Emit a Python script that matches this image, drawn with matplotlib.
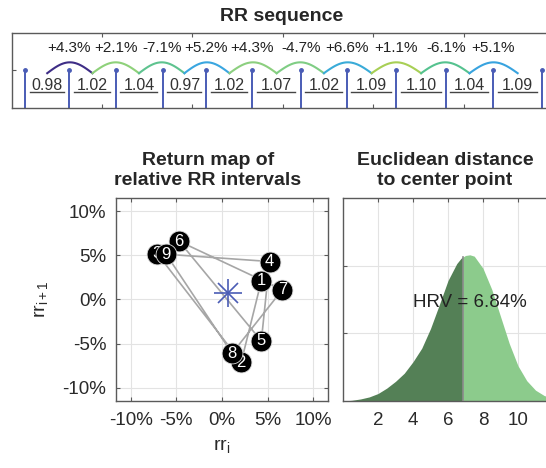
import numpy as np
import matplotlib
matplotlib.use("Agg")
import matplotlib.pyplot as plt

plt.rcParams['font.family'] = ['Liberation Sans', 'DejaVu Sans']
plt.rcParams['mathtext.fontset'] = 'custom'
plt.rcParams['mathtext.rm'] = 'Liberation Sans'
plt.rcParams['mathtext.it'] = 'Liberation Sans'

# ----- Data -----
t_first = 0.3                     # time of first beat (s)
rr = [0.98, 1.02, 1.04, 0.97, 1.02, 1.07, 1.02, 1.09, 1.10, 1.04, 1.09]
rel = [4.3, 2.1, -7.1, 5.2, 4.3, -4.7, 6.6, 1.1, -6.1, 5.1]   # relative change (%)
rel_labels = ["+4.3%", "+2.1%", "-7.1%", "+5.2%", "+4.3%", "-4.7%",
              "+6.6%", "+1.1%", "-6.1%", "+5.1%"]
arc_colors = ["#3e2d86", "#8ed17a", "#5ec38f", "#3aa6e0", "#8ccf7f",
              "#7fcd84", "#3aabd8", "#a8cf55", "#55c28f", "#38a3df"]

# distance distribution
dist_x = [0, 0.5, 1.0, 1.5, 2.0, 2.5, 3.0, 3.5, 4.0, 4.5, 5.0, 5.5, 6.0, 6.5,
          6.75, 7.0, 7.25, 7.5, 8.0, 8.5, 9.0, 9.5, 10.0, 10.5, 11.0, 11.5, 12.0]
dist_y = [0.0, 0.01, 0.03, 0.06, 0.11, 0.19, 0.29, 0.41, 0.58, 0.78, 1.07, 1.42,
          1.78, 2.03, 2.11, 2.15, 2.16, 2.14, 1.96, 1.65, 1.25, 0.85, 0.52, 0.30,
          0.16, 0.08, 0.04]
hrv = 6.84

frame_col = "#5a5a5a"
blue = "#4a5cb5"

fig = plt.figure(figsize=(5.46, 4.68), dpi=100)

def style(ax):
    for s in ax.spines.values():
        s.set_color(frame_col)
        s.set_linewidth(1.0)
    ax.tick_params(direction='in', length=3, width=0.8, color=frame_col,
                   top=True, right=True, labelsize=13.5, labelcolor="#2a2a2a")
    ax.tick_params(axis='x', pad=8)
    ax.tick_params(axis='y', pad=7)

# ----- RR sequence -----
ax1 = fig.add_axes([0.0211, 0.7699, 0.9936, 0.1602])
style(ax1)
beats = t_first + np.concatenate([[0], np.cumsum(rr)])
ax1.vlines(beats, 0, 1, color=blue, lw=1.4)
ax1.plot(beats, np.ones_like(beats), 'o', color=blue, ms=2.5)
mids = (beats[:-1] + beats[1:]) / 2
for i in range(len(rr)):
    ax1.text(mids[i], 0.6, f"{rr[i]:.2f}", ha='center', va='center',
             fontsize=11.5, color="#333333")
    ax1.plot([beats[i] + 0.1, beats[i + 1] - 0.12], [0.43, 0.43],
             color="#444444", lw=1.0)
u = np.linspace(0, 1, 30)
for i in range(len(rel)):
    xs = mids[i] + (mids[i + 1] - mids[i]) * u
    ax1.plot(xs, 0.92 + 0.29 * np.sin(np.pi * u), color=arc_colors[i], lw=1.5)
    ax1.text(beats[i + 1], 1.58, rel_labels[i], ha='center', va='center',
             fontsize=11, color="#222222")
ax1.set_xlim(0, 12)
ax1.set_ylim(0, 2)
ax1.set_xticks([2, 4, 6, 8, 10])
ax1.set_yticks([1])
ax1.set_xticklabels([])
ax1.set_yticklabels([])
fig.text(0.5165, 0.9637, "RR sequence", ha='center', va='center',
         fontsize=14, fontweight='bold', color="#262626")

# ----- Return map -----
ax2 = fig.add_axes([0.2125, 0.1432, 0.3883, 0.4338])
style(ax2)
ax2.grid(True, color="#e3e3e3", lw=0.8)
ax2.set_axisbelow(True)
px = rel[:-1]
py = rel[1:]
ax2.plot(px, py, color="#a6a6a6", lw=1.2, zorder=2)
for k in range(len(px)):
    ax2.plot(px[k], py[k], 'o', ms=15, color="black", mec="#dddddd", mew=0.6,
             zorder=3 + k)
    ax2.text(px[k], py[k], str(k + 1), ha='center', va='center', color='white',
             fontsize=12, zorder=3 + k)
cx, cy = np.mean(px), np.mean(py)
ax2.plot(cx, cy, '+', ms=20, mew=1.2, color=blue, zorder=20)
ax2.plot(cx, cy, 'x', ms=14, mew=1.2, color=blue, zorder=20)
ax2.set_xlim(-11.6, 11.6)
ax2.set_ylim(-11.5, 11.5)
ticks = [-10, -5, 0, 5, 10]
ax2.set_xticks(ticks)
ax2.set_yticks(ticks)
ax2.set_xticklabels([f"{v}%" for v in ticks])
ax2.set_yticklabels([f"{v}%" for v in ticks])
ax2.set_xlabel(r"rr$_{\mathrm{i}}$", fontsize=14, color="#2a2a2a", labelpad=6)
ax2.set_ylabel(r"rr$_{\mathrm{i+1}}$", fontsize=14, color="#2a2a2a", labelpad=9)
fig.text(0.381, 0.6357, "Return map of\nrelative RR intervals", ha='center',
         va='center', fontsize=14, fontweight='bold', color="#262626",
         linespacing=1.25)

# ----- Distance distribution -----
ax3 = fig.add_axes([0.6282, 0.1432, 0.3846, 0.4338])
style(ax3)
ax3.grid(True, color="#e3e3e3", lw=0.8)
ax3.set_axisbelow(True)
dx = np.array(dist_x)
dy = np.array(dist_y)
yh = np.interp(hrv, dx, dy)
left = dx < hrv
ax3.fill_between(np.append(dx[left], hrv), np.append(dy[left], yh), 0,
                 color="#548056", lw=0, zorder=2)
ax3.fill_between(np.insert(dx[~left], 0, hrv), np.insert(dy[~left], 0, yh), 0,
                 color="#8ccb8c", lw=0, zorder=2)
ax3.plot([hrv, hrv], [0, yh], color="#8a8a8a", lw=1.2, zorder=3)
ax3.text(7.23, 1.46, f"HRV = {hrv:.2f}%", ha='center', va='center',
         fontsize=13.5, color="#222222", zorder=4)
ax3.set_xlim(0, 12)
ax3.set_ylim(0, 3)
ax3.set_xticks([2, 4, 6, 8, 10])
ax3.set_yticks([1, 2])
ax3.set_yticklabels([])
fig.text(0.815, 0.6357, "Euclidean distance\nto center point", ha='center',
         va='center', fontsize=14, fontweight='bold', color="#262626",
         linespacing=1.25)

fig.savefig("out.png", dpi=100)
